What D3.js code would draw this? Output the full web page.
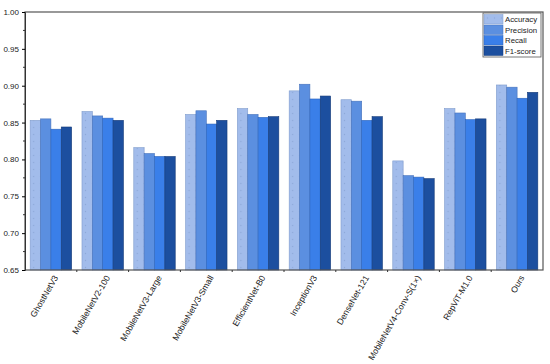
<!DOCTYPE html>
<html>
<head>
<meta charset="utf-8">
<script src="https://cdn.jsdelivr.net/npm/d3@7"></script>
<style>
  body { margin: 0; background: #fff; }
  text { font-family: "Liberation Sans", Arial, sans-serif; fill: #222; }
</style>
</head>
<body>
<div id="chart"></div>
<script>
// model names along the x axis
var models = ["GhostNetV3", "MobileNetV2-100", "MobileNetV3-Large", "MobileNetV3-Small",
              "EfficientNet-B0", "InceptionV3", "DenseNet-121", "MobileNetV4-Conv-S(1\u00d7)",
              "RepViT-M1.0", "Ours"];
var metrics = ["Accuracy", "Precision", "Recall", "F1-score"];

// values
var accuracy  = [0.853, 0.865, 0.816, 0.861, 0.869, 0.893, 0.881, 0.798, 0.869, 0.901];
var precision = [0.855, 0.859, 0.808, 0.866, 0.861, 0.902, 0.879, 0.778, 0.863, 0.898];
var recall    = [0.841, 0.856, 0.804, 0.848, 0.857, 0.882, 0.853, 0.776, 0.854, 0.883];
var f1score   = [0.844, 0.853, 0.804, 0.853, 0.858, 0.886, 0.858, 0.774, 0.855, 0.891];

var yTicks = [0.65, 0.70, 0.75, 0.80, 0.85, 0.90, 0.95, 1.00];

var colors = ["#a2bceb", "#5b8fe0", "#3a7fe9", "#1c4f9f"];
var strokes = ["#7f9ccc", "#4672bb", "#2d64bb", "#143a78"];

var series = [accuracy, precision, recall, f1score];
var data = models.map(function(m, i) {
  return {model: m, values: series.map(function(s, k) { return {key: metrics[k], k: k, v: s[i]}; })};
});

var W = 550, H = 364;
var margin = {top: 12, right: 7, bottom: 94, left: 25},
    width  = W - margin.left - margin.right,
    height = H - margin.top - margin.bottom;

var svg = d3.select("#chart").append("svg")
    .attr("width", W)
    .attr("height", H);

var g = svg.append("g")
    .attr("transform", "translate(" + margin.left + "," + margin.top + ")");

var x0 = d3.scaleBand().domain(models).range([0, width]).paddingInner(0.2).paddingOuter(0.1);
var x1 = d3.scaleBand().domain(metrics).range([0, x0.bandwidth()]);
var y  = d3.scaleLinear().domain([0.65, 1.0]).range([height, 0]);

// subtle dotted texture on the accuracy bars
var defs = svg.append("defs");
var pat = defs.append("pattern")
    .attr("id", "dots")
    .attr("width", 7).attr("height", 7)
    .attr("patternUnits", "userSpaceOnUse");
pat.append("rect").attr("width", 7).attr("height", 7).attr("fill", colors[0]);
pat.append("circle").attr("cx", 3.5).attr("cy", 3.5).attr("r", 0.7).attr("fill", "#8ea9d9");

var groups = g.selectAll(".grp")
    .data(data)
  .enter().append("g")
    .attr("class", "grp")
    .attr("transform", function(d) { return "translate(" + x0(d.model) + ",0)"; });

groups.selectAll("rect")
    .data(function(d) { return d.values; })
  .enter().append("rect")
    .attr("x", function(d) { return x1(d.key); })
    .attr("y", function(d) { return y(d.v); })
    .attr("width", x1.bandwidth())
    .attr("height", function(d) { return height - y(d.v); })
    .attr("fill", function(d) { return d.k === 0 ? "url(#dots)" : colors[d.k]; })
    .attr("stroke", function(d) { return strokes[d.k]; })
    .attr("stroke-width", 0.6);

// frame
g.append("rect")
    .attr("width", width).attr("height", height)
    .attr("fill", "none")
    .attr("stroke", "#555")
    .attr("stroke-width", 1.2);

// y axis with minor ticks
var yAxis = g.append("g")
    .call(d3.axisLeft(y).tickValues(yTicks).tickFormat(d3.format(".2f")).tickSize(3).tickPadding(3));
yAxis.select(".domain").attr("stroke", "#333");
yAxis.selectAll("text").style("font-size", "8px");

var minor = d3.range(0, 7).map(function(i) { return 0.675 + i * 0.05; });
g.selectAll(".minor")
    .data(minor)
  .enter().append("line")
    .attr("x1", -2).attr("x2", 0)
    .attr("y1", function(d) { return y(d); })
    .attr("y2", function(d) { return y(d); })
    .attr("stroke", "#333");

// x ticks at the group boundaries
var step = width / models.length;
g.selectAll(".xtick")
    .data(d3.range(1, models.length))
  .enter().append("line")
    .attr("x1", function(d) { return d * step; })
    .attr("x2", function(d) { return d * step; })
    .attr("y1", height).attr("y2", height + 2)
    .attr("stroke", "#333");

g.selectAll(".xlab")
    .data(models)
  .enter().append("text")
    .attr("transform", function(d) {
      return "translate(" + (x0(d) + x0.bandwidth() / 2 + 5) + "," + (height + 6) + ") rotate(-60)";
    })
    .attr("text-anchor", "end")
    .attr("dy", "0.35em")
    .style("font-size", "8.6px")
    .text(function(d) { return d; });

// legend
var lg = g.append("g").attr("transform", "translate(" + (width - 60) + ",1)");
lg.append("rect")
    .attr("width", 58).attr("height", 44)
    .attr("fill", "#fff")
    .attr("stroke", "#555")
    .attr("stroke-width", 0.8);
metrics.forEach(function(m, k) {
  var row = lg.append("g").attr("transform", "translate(1," + (1.5 + k * 10.5) + ")");
  row.append("rect")
      .attr("width", 19).attr("height", 9.5)
      .attr("fill", k === 0 ? "url(#dots)" : colors[k])
      .attr("stroke", strokes[k]).attr("stroke-width", 0.5);
  row.append("text")
      .attr("x", 21).attr("y", 5)
      .attr("dy", "0.35em")
      .style("font-size", "7.8px")
      .text(m);
});
</script>
</body>
</html>
